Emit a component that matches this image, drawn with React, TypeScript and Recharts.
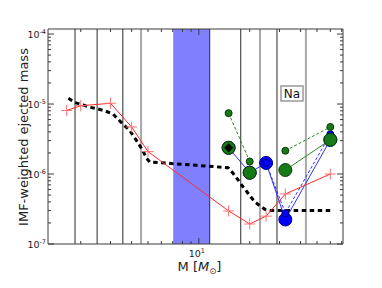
import { ComposedChart, Line, XAxis, YAxis, ReferenceLine, ReferenceArea } from 'recharts'

// thick black dashed curve
const dashedMass = [1.69, 1.85, 2.07, 2.26, 2.54, 2.78, 3.11, 3.33, 3.56, 3.91, 4.31, 4.64, 4.9, 5.13, 6.44, 9.7, 14.9, 15.96, 17.1, 18.1, 19.2, 20.2, 21.4, 23.0, 24.6, 26.3, 61]
const dashedYield = [1.21e-5, 1.05e-5, 9.68e-6, 9.0e-6, 8.48e-6, 7.98e-6, 7.18e-6, 6.05e-6, 5.15e-6, 4.14e-6, 2.92e-6, 2.2e-6, 1.68e-6, 1.48e-6, 1.43e-6, 1.33e-6, 1.23e-6, 1.02e-6, 8.18e-7, 6.74e-7, 5.62e-7, 4.77e-7, 4.02e-7, 3.5e-7, 3.13e-7, 3.02e-7, 3.02e-7]

// red line with + markers
const redMass = [1.65, 2, 3, 4, 5, 15, 20, 25, 32.5, 60]
const redYield = [8.09e-6, 9.45e-6, 1.025e-5, 4.7e-6, 2.09e-6, 2.97e-7, 1.93e-7, 2.5e-7, 5.19e-7, 1.0e-6]

// massive star models
const modelMass = [15, 20, 25, 32.5, 60]
const blueBig = [2.37e-6, 1.045e-6, 1.44e-6, 2.24e-7, 3.08e-6]
const blueSmall = [null, null, 1.44e-6, 2.76e-7, 3.7e-6]
const greenBig = [null, 1.045e-6, null, 1.14e-6, 3.08e-6]
const greenSmall = [7.41e-6, 1.51e-6, null, 2.15e-6, 4.7e-6]
const markMass = [15]
const markYield = [2.37e-6]

// vertical guide lines
const blackLines = [1.85, 2.5, 3.55, 11.6, 17.7, 29]
const grayLines = [4.55, 23, 43]
const band = [7.05, 11.6]

const xTicks = [2, 3, 4, 5, 6, 7, 8, 9, 10, 20, 30, 40, 50, 60, 70]
const yMajor = [1e-7, 1e-6, 1e-5, 1e-4]
const yTicks = yMajor.slice(0, 3).flatMap((d) => [1, 2, 3, 4, 5, 6, 7, 8, 9].map((k) => k * d)).concat([1e-4])

const toRows = (xs: number[], ys: (number | null)[]) => xs.map((m, i) => ({ m, v: ys[i] }))

const axisColor = '#3a3a3a'
const font = 'DejaVu Sans'

const isMajor = (v: number) => Math.abs(Math.log10(v) - Math.round(Math.log10(v))) < 1e-6

const XTick = (top: boolean) => (props: any) => {
  const { x, y, payload } = props
  const v = payload.value
  const len = isMajor(v) ? 6 : 3
  return (
    <g>
      <line x1={x} x2={x} y1={y} y2={top ? y + len : y - len} stroke={axisColor} strokeWidth={1} />
      {!top && isMajor(v) && (
        <text x={x - 2} y={y + 13} textAnchor="middle" fontSize={9.5} fontFamily={font} fill="#222">
          10<tspan dy={-4} fontSize={6.5}>{Math.round(Math.log10(v))}</tspan>
        </text>
      )}
    </g>
  )
}

const YTick = (right: boolean) => (props: any) => {
  const { x, y, payload } = props
  const v = payload.value
  const len = isMajor(v) ? 6 : 3
  return (
    <g>
      <line x1={x} x2={right ? x - len : x + len} y1={y} y2={y} stroke={axisColor} strokeWidth={1} />
      {!right && isMajor(v) && (
        <text x={x - 2} y={y + 4} textAnchor="end" fontSize={9.5} fontFamily={font} fill="#222">
          10<tspan dy={-4} fontSize={6.5}>{'-' + Math.abs(Math.round(Math.log10(v)))}</tspan>
        </text>
      )}
    </g>
  )
}

const circleDot = (r: number, fill: string, stroke: string) => (p: any) => {
  if (p.cx == null || p.cy == null || p.value == null) return <g key={p.key} />
  return <circle key={p.key} cx={p.cx} cy={p.cy} r={r} fill={fill} stroke={stroke} strokeWidth={1} />
}

const plusDot = (p: any) => {
  if (p.cx == null || p.cy == null) return <g key={p.key} />
  return (
    <g key={p.key} stroke="#ff7272" strokeWidth={1}>
      <line x1={p.cx - 5.5} x2={p.cx + 5.5} y1={p.cy} y2={p.cy} />
      <line x1={p.cx} x2={p.cx} y1={p.cy - 5.5} y2={p.cy + 5.5} />
    </g>
  )
}

const diamondDot = (p: any) => {
  if (p.cx == null || p.cy == null) return <g key={p.key} />
  const { cx, cy } = p
  return (
    <g key={p.key}>
      <circle cx={cx} cy={cy} r={6.5} fill="#167a16" stroke="#0a3a0a" strokeWidth={1} />
      <polygon points={`${cx},${cy - 4.5} ${cx + 4.5},${cy} ${cx},${cy + 4.5} ${cx - 4.5},${cy}`} fill="#000" />
    </g>
  )
}

export default function App() {
  return (
    <div style={{ position: 'relative', width: 382, height: 288, background: '#fff' }}>
      <style>{'body{margin:0}'}</style>
      <ComposedChart width={382} height={288} margin={{ top: 19, right: 29, bottom: 14, left: 0 }}>
        <XAxis
          xAxisId="b"
          dataKey="m"
          type="number"
          scale="log"
          domain={[1.28, 71.3]}
          allowDataOverflow
          ticks={xTicks}
          interval={0}
          tickSize={0}
          tickMargin={0}
          height={30}
          axisLine={{ stroke: axisColor }}
          tick={XTick(false)}
        />
        <XAxis
          xAxisId="t"
          orientation="top"
          dataKey="m"
          type="number"
          scale="log"
          domain={[1.28, 71.3]}
          allowDataOverflow
          ticks={xTicks}
          interval={0}
          tickSize={0}
          tickMargin={0}
          height={10}
          axisLine={{ stroke: axisColor }}
          tick={XTick(true)}
        />
        <YAxis
          yAxisId="l"
          type="number"
          scale="log"
          domain={[1e-7, 1.18e-4]}
          allowDataOverflow
          ticks={yTicks}
          interval={0}
          tickSize={0}
          tickMargin={0}
          width={48}
          axisLine={{ stroke: axisColor }}
          tick={YTick(false)}
        />
        <YAxis
          yAxisId="r"
          orientation="right"
          type="number"
          scale="log"
          domain={[1e-7, 1.18e-4]}
          allowDataOverflow
          ticks={yTicks}
          interval={0}
          tickSize={0}
          tickMargin={0}
          width={10}
          axisLine={{ stroke: axisColor }}
          tick={YTick(true)}
        />
        <ReferenceArea xAxisId="b" yAxisId="l" x1={band[0]} x2={band[1]} fill="#8080ff" fillOpacity={1} stroke="none" />
        {blackLines.map((m) => (
          <ReferenceLine key={'k' + m} xAxisId="b" yAxisId="l" x={m} stroke="#2a2a2a" strokeWidth={1} />
        ))}
        {grayLines.map((m) => (
          <ReferenceLine key={'g' + m} xAxisId="b" yAxisId="l" x={m} stroke="#a8a8a8" strokeWidth={2} />
        ))}
        <Line
          xAxisId="b"
          yAxisId="l"
          data={toRows(dashedMass, dashedYield)}
          dataKey="v"
          stroke="#000"
          strokeWidth={3}
          strokeDasharray="4.5 3.5"
          dot={false}
          isAnimationActive={false}
        />
        <Line
          xAxisId="b"
          yAxisId="l"
          data={toRows(modelMass, blueBig)}
          dataKey="v"
          stroke="#3030ff"
          strokeWidth={1}
          dot={circleDot(6.5, '#0000ff', '#00007a')}
          isAnimationActive={false}
        />
        <Line
          xAxisId="b"
          yAxisId="l"
          data={toRows(modelMass, blueSmall)}
          dataKey="v"
          stroke="#3030ff"
          strokeWidth={1}
          strokeDasharray="3 2"
          dot={circleDot(3.5, '#0000ff', '#00007a')}
          isAnimationActive={false}
        />
        <Line
          xAxisId="b"
          yAxisId="l"
          data={toRows(modelMass, greenBig)}
          dataKey="v"
          stroke="#2a8a2a"
          strokeWidth={1}
          dot={circleDot(6.5, '#167a16', '#0a3a0a')}
          isAnimationActive={false}
        />
        <Line
          xAxisId="b"
          yAxisId="l"
          data={toRows(modelMass, greenSmall)}
          dataKey="v"
          stroke="#2a8a2a"
          strokeWidth={1}
          strokeDasharray="3 2"
          dot={circleDot(3.5, '#167a16', '#0a3a0a')}
          isAnimationActive={false}
        />
        <Line
          xAxisId="b"
          yAxisId="l"
          data={toRows(markMass, markYield)}
          dataKey="v"
          stroke="none"
          dot={diamondDot}
          isAnimationActive={false}
        />
        <Line
          xAxisId="b"
          yAxisId="l"
          data={toRows(redMass, redYield)}
          dataKey="v"
          stroke="#ff2a2a"
          strokeWidth={1}
          dot={plusDot}
          isAnimationActive={false}
        />
      </ComposedChart>
      <svg width={382} height={288} style={{ position: 'absolute', left: 0, top: 0, pointerEvents: 'none' }}>
        <text
          transform="translate(28,137) rotate(-90)"
          textAnchor="middle"
          fontSize={13}
          fontFamily={font}
          fill="#222"
        >
          IMF-weighted ejected mass
        </text>
        <text x={199.5} y={271} textAnchor="middle" fontSize={13} fontFamily={font} fill="#222">
          M [<tspan fontStyle="italic">M</tspan>
          <tspan fontSize={8.5} dy={3}>⊙</tspan>
          <tspan dy={-3}>]</tspan>
        </text>
        <rect x={281} y={86} width={22} height={15} fill="#fff" stroke="#999" strokeWidth={1.5} />
        <text x={292} y={98} textAnchor="middle" fontSize={12} fontFamily={font} fill="#111">
          Na
        </text>
      </svg>
    </div>
  )
}
